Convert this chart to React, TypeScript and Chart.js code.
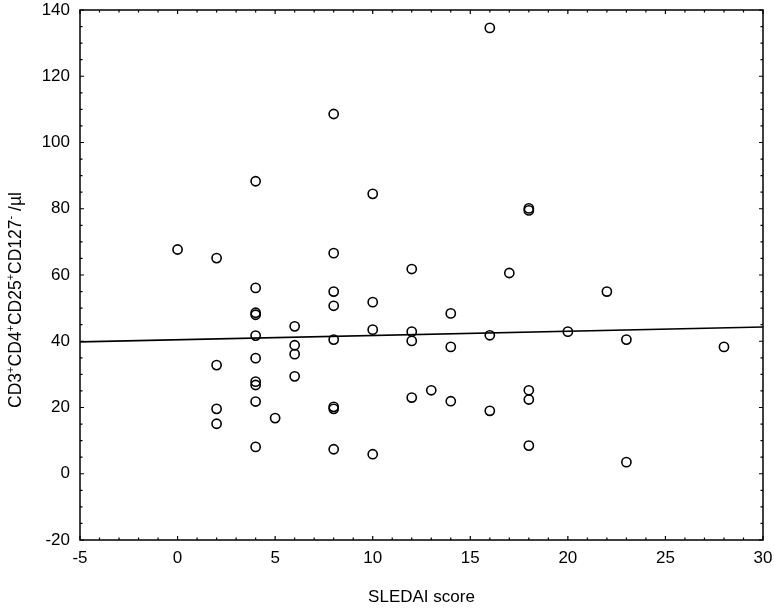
import React, { useEffect, useRef } from "react";
import { Chart, registerables } from "chart.js";

Chart.register(...registerables);

// SLEDAI score (x) of every patient
const sledai = [
  0,
  2, 2, 2, 2,
  4, 4, 4, 4, 4, 4, 4, 4, 4, 4,
  5,
  6, 6, 6, 6,
  8, 8, 8, 8, 8, 8, 8, 8,
  10, 10, 10, 10,
  12, 12, 12, 12,
  13,
  14, 14, 14,
  16, 16, 16,
  17,
  18, 18, 18, 18, 18,
  20,
  22,
  23, 23,
  28,
];

// CD3+CD4+CD25+CD127- cells / µl
const cells = [
  67.7,
  65.1, 32.8, 19.6, 15.1,
  88.3, 56.1, 48.6, 48.0, 41.7, 34.9, 27.8, 26.8, 21.8, 8.1,
  16.8,
  44.5, 38.8, 36.1, 29.4,
  108.6, 66.6, 55.0, 50.7, 40.5, 20.2, 19.6, 7.4,
  84.5, 51.8, 43.5, 5.9,
  61.8, 42.9, 40.1, 23.0,
  25.2,
  48.4, 38.3, 21.9,
  134.6, 41.8, 19.0,
  60.6,
  80.1, 79.5, 25.2, 22.4, 8.5,
  42.9,
  55.0,
  40.5, 3.5,
  38.3,
];

// regression line end points
const fitX = [-5, 30];
const fitY = [39.8, 44.3];

// axes
const xMin = -5;
const xMax = 30;
const xStep = 5;
const xMinorStep = 1;
const yMin = -20;
const yMax = 140;
const yStep = 20;
const yMinorStep = 5;

const xTitle = "SLEDAI score";
const yTitleParts: [string, boolean][] = [
  ["CD3", false],
  ["+", true],
  ["CD4", false],
  ["+", true],
  ["CD25", false],
  ["+", true],
  ["CD127", false],
  ["-", true],
  [" /µl", false],
];

const FONT = "'Liberation Sans', Arial, sans-serif";

const framePlugin = {
  id: "frame",
  afterDraw(chart: any) {
    const { ctx, chartArea } = chart;
    const { left, right, top, bottom } = chartArea;
    const xs = chart.scales.x;
    const ys = chart.scales.y;
    ctx.save();
    ctx.strokeStyle = "#000";
    ctx.lineWidth = 1.5;
    ctx.strokeRect(left, top, right - left, bottom - top);

    ctx.lineWidth = 1.2;
    ctx.beginPath();
    for (let v = xMin; v <= xMax + 1e-9; v += xMinorStep) {
      const p = xs.getPixelForValue(v);
      const len = Math.abs(v % xStep) < 1e-9 ? 4 : 2.5;
      ctx.moveTo(p, bottom);
      ctx.lineTo(p, bottom - len);
      ctx.moveTo(p, top);
      ctx.lineTo(p, top + len);
    }
    for (let v = yMin; v <= yMax + 1e-9; v += yMinorStep) {
      const p = ys.getPixelForValue(v);
      const len = Math.abs(v % yStep) < 1e-9 ? 4 : 2.5;
      ctx.moveTo(left, p);
      ctx.lineTo(left + len, p);
      ctx.moveTo(right, p);
      ctx.lineTo(right - len, p);
    }
    ctx.stroke();

    // x title
    ctx.fillStyle = "#000";
    ctx.font = `17px ${FONT}`;
    ctx.textAlign = "center";
    ctx.textBaseline = "middle";
    ctx.fillText(xTitle, (left + right) / 2, 597);

    // y title with superscripts
    const normal = `17.5px ${FONT}`;
    const sup = `11px ${FONT}`;
    let total = 0;
    for (const [t, s] of yTitleParts) {
      ctx.font = s ? sup : normal;
      total += ctx.measureText(t).width;
    }
    ctx.translate(16, 300);
    ctx.rotate(-Math.PI / 2);
    ctx.textAlign = "left";
    ctx.textBaseline = "middle";
    let x = -total / 2;
    for (const [t, s] of yTitleParts) {
      ctx.font = s ? sup : normal;
      ctx.fillText(t, x, s ? -5 : 0);
      x += ctx.measureText(t).width;
    }
    ctx.restore();
  },
};

export default function App() {
  const ref = useRef<HTMLCanvasElement | null>(null);

  useEffect(() => {
    if (!ref.current) return;
    const points = sledai.map((v, i) => ({ x: v, y: cells[i] }));
    const fit = fitX.map((v, i) => ({ x: v, y: fitY[i] }));
    const chart = new Chart(ref.current, {
      type: "scatter",
      data: {
        datasets: [
          {
            type: "line",
            data: fit,
            borderColor: "#000",
            borderWidth: 1.6,
            pointRadius: 0,
            fill: false,
          } as any,
          {
            data: points,
            pointStyle: "circle",
            pointRadius: 4.6,
            pointBorderWidth: 1.6,
            borderColor: "#000",
            backgroundColor: "rgba(255,255,255,0)",
            pointBackgroundColor: "rgba(255,255,255,0)",
            pointBorderColor: "#000",
          } as any,
        ],
      },
      options: {
        responsive: false,
        animation: false,
        devicePixelRatio: 1,
        layout: { padding: 0 },
        plugins: {
          legend: { display: false },
          tooltip: { enabled: false },
        },
        scales: {
          x: {
            type: "linear",
            min: xMin,
            max: xMax,
            grid: { display: false, drawTicks: false },
            border: { display: false },
            ticks: {
              stepSize: xStep,
              padding: 8,
              color: "#000",
              font: { family: FONT, size: 17 },
              maxRotation: 0,
            },
            afterFit: (s: any) => {
              s.height = 68;
              s.paddingRight = 11;
              s.paddingLeft = 0;
            },
          },
          y: {
            type: "linear",
            min: yMin,
            max: yMax,
            grid: { display: false, drawTicks: false },
            border: { display: false },
            ticks: {
              stepSize: yStep,
              padding: 10,
              color: "#000",
              font: { family: FONT, size: 17 },
            },
            afterFit: (s: any) => {
              s.width = 80;
              s.paddingTop = 10;
              s.paddingBottom = 0;
            },
          },
        },
      },
      plugins: [framePlugin],
    });
    return () => chart.destroy();
  }, []);

  return (
    <div style={{ position: "absolute", left: 0, top: 0, width: 774, height: 608, background: "#fff" }}>
      <canvas ref={ref} width={774} height={608} style={{ display: "block" }} />
    </div>
  );
}
